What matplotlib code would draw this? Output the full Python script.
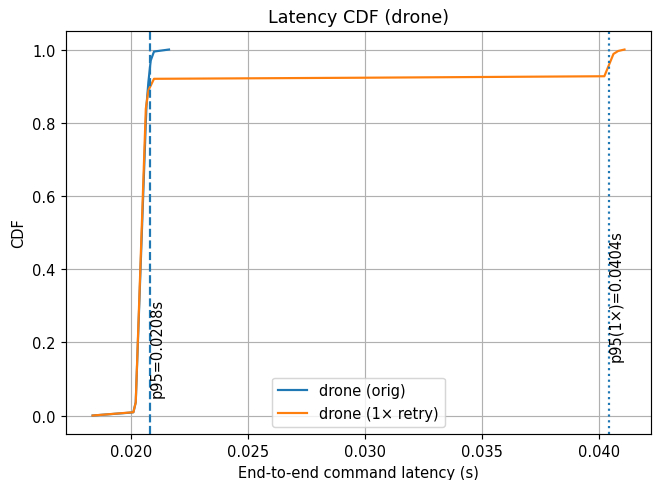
import numpy as np
import matplotlib
matplotlib.use("Agg")
import matplotlib.pyplot as plt

# latency CDF points
orig_x = [0.01837, 0.0200, 0.02011, 0.02021, 0.02064, 0.02067, 0.02075, 0.02085, 0.02099, 0.02163]
orig_y = [0.0, 0.008, 0.009, 0.036, 0.80, 0.847, 0.911, 0.97, 0.9945, 1.0]
retry_x = [0.01837, 0.02011, 0.02021, 0.02064, 0.02075, 0.02099, 0.0300, 0.04021, 0.0406, 0.0408, 0.04107]
retry_y = [0.0, 0.009, 0.036, 0.838, 0.888, 0.920, 0.923, 0.927, 0.988, 0.996, 1.0]
p95_orig = 0.0208
p95_retry = 0.0404

dpi = 105
fig, ax = plt.subplots(figsize=(657 / dpi, 481 / dpi), dpi=dpi)
ax.plot(orig_x, orig_y, label="drone (orig)")
ax.plot(retry_x, retry_y, label="drone (1× retry)")
ax.axvline(p95_orig, linestyle="--")
ax.text(p95_orig, 0.05, f"p95={p95_orig:.4f}s", rotation=90, va="bottom")
ax.axvline(p95_retry, linestyle=":")
ax.text(p95_retry, 0.15, f"p95(1×)={p95_retry:.4f}s", rotation=90, va="bottom")
ax.set_xlabel("End-to-end command latency (s)")
ax.set_ylabel("CDF")
ax.set_title("Latency CDF (drone)")
ax.grid(True)
ax.legend(loc="lower center")
fig.subplots_adjust(left=0.1005, right=0.991, top=0.933, bottom=0.096)
fig.savefig("out.png", dpi=dpi)
